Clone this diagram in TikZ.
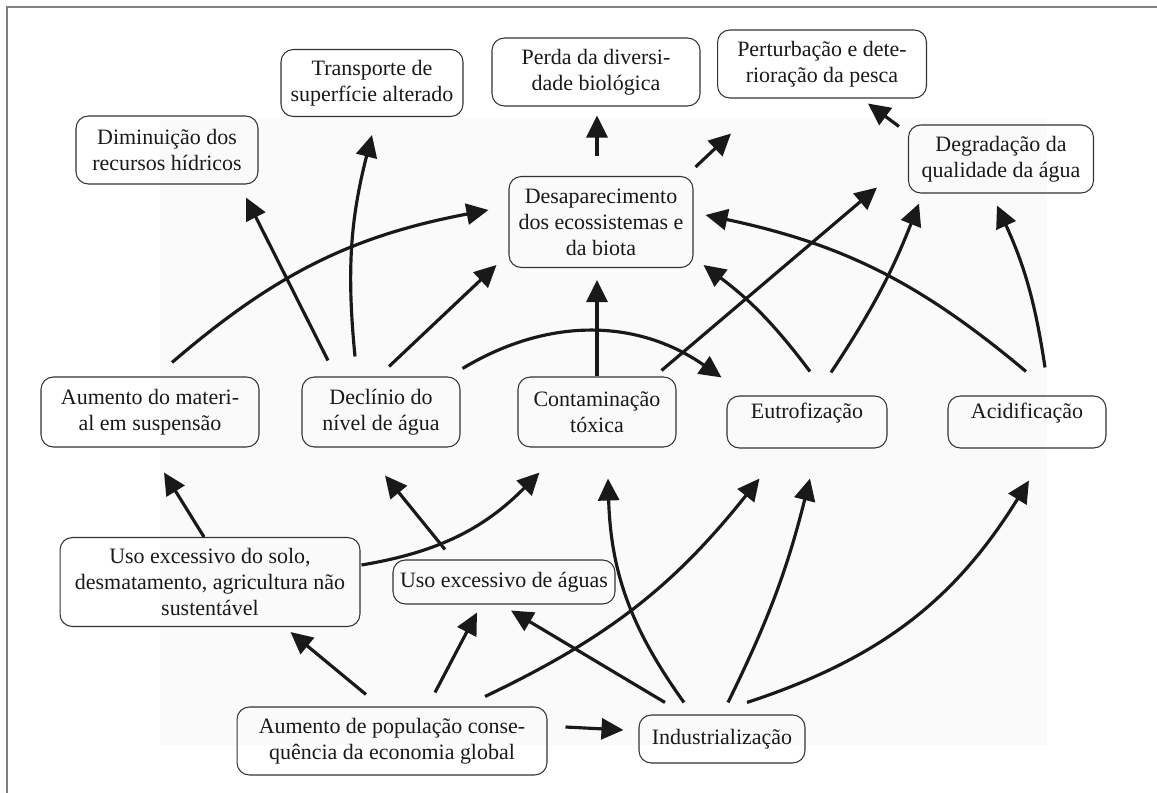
\documentclass[tikz,border=0pt]{standalone}
\usepackage{fontspec}
\setmainfont{Liberation Serif}
\usetikzlibrary{arrows.meta}

\begin{document}
\begin{tikzpicture}[x=0.02cm, y=-0.02cm, >={Triangle[length=0.44cm,width=0.42cm]}]
\tikzstyle{block} = [draw=black!80, line width=0.6pt, rounded corners=7pt, align=center, inner sep=0pt, text=black!90, font=\fontsize{12.5}{14.8}\selectfont]
\tikzstyle{short} = [text height=0.3cm, text depth=0.42cm]
\tikzstyle{link} = [->, line width=1.8pt, black!90]

% page, faint panel and frame
\useasboundingbox (0,0) rectangle (1157,793);
\fill[black!2] (160,118) rectangle (1047,745);
\draw[gray, line width=1.2pt] (7,793) -- (7,7) -- (1157,7);

% top row
\node [block, minimum width=3.64cm, minimum height=1.36cm] (recursos) at (167,150) {Diminuição dos\\recursos hídricos};
\node [block, minimum width=3.64cm, minimum height=1.34cm] (transporte) at (372,83) {Transporte de\\superfície alterado};
\node [block, minimum width=4.16cm, minimum height=1.36cm] (diversidade) at (596,72) {Perda da diversi-\\dade biológica};
\node [block, minimum width=4.18cm, minimum height=1.36cm] (pesca) at (822,64) {Perturbação e dete-\\rioração da pesca};
\node [block, minimum width=3.70cm, minimum height=1.36cm] (qualidade) at (1001,159) {Degradação da\\qualidade da água};
\node [block, minimum width=3.68cm, minimum height=1.82cm] (ecossistemas) at (601,222) {Desaparecimento\\dos ecossistemas e\\da biota};

% middle row
\node [block, minimum width=4.36cm, minimum height=1.40cm] (material) at (150,412) {Aumento do materi-\\al em suspensão};
\node [block, minimum width=3.16cm, minimum height=1.40cm] (nivel) at (381,412) {Declínio do\\nível de água};
\node [block, minimum width=3.16cm, minimum height=1.40cm] (toxica) at (597,412) {Contaminação\\tóxica};
\node [block, short, minimum width=3.20cm, minimum height=1.04cm] (eutrofizacao) at (807,422) {Eutrofização};
\node [block, short, minimum width=3.16cm, minimum height=1.04cm] (acidificacao) at (1027,422) {Acidificação};

% causes
\node [block, minimum width=6.00cm, minimum height=1.78cm] (solo) at (210,582) {Uso excessivo do solo,\\desmatamento, agricultura não\\sustentável};
\node [block, minimum width=4.44cm, minimum height=0.88cm] (aguas) at (504,582) {Uso excessivo de águas};
\node [block, minimum width=6.20cm, minimum height=1.36cm] (populacao) at (392,741) {Aumento de população conse-\\quência da economia global};
\node [block, minimum width=3.32cm, minimum height=0.96cm] (industria) at (722,739) {Industrialização};

% effects of the middle row
\draw [link] ([shift={(22,-14)}]material.north) to[bend left=15] ([shift={(-20,-12)}]ecossistemas.west);
\draw [link] ([shift={(-53,-16)}]nivel.north) -- ([shift={(79,13)}]recursos.south);
\draw [link] ([shift={(-26,-20)}]nivel.north) to[bend left=10] ([shift={(0,18)}]transporte.south);
\draw [link] ([shift={(8,-10)}]nivel.north) -- ([shift={(-12,-3)}]ecossistemas.south west);
\draw [link] ([shift={(2,-8)}]nivel.north east) to[bend left=33] ([shift={(-5,-18)}]eutrofizacao.north west);
\draw [link] (toxica.north) -- ([shift={(-4,12)}]ecossistemas.south);
\draw [link] ([shift={(-15,-6)}]toxica.north east) -- ([shift={(-31,-6)}]qualidade.south west);
\draw [link] ([shift={(3,-24)}]eutrofizacao.north) to[bend right=8] ([shift={(10,-3)}]ecossistemas.south east);
\draw [link] ([shift={(24,-23)}]eutrofizacao.north) to[bend right=6] ([shift={(11,10)}]qualidade.south west);
\draw [link] ([shift={(-1,-24)}]acidificacao.north) to[bend right=14] ([shift={(12,-7)}]ecossistemas.east);
\draw [link] ([shift={(18,-28)}]acidificacao.north) to[bend right=8] ([shift={(-4,12)}]qualidade.south);

% top effects
\draw [link] ([shift={(-4,-20)}]ecossistemas.north) -- ([shift={(1,9)}]diversidade.south);
\draw [link] ([shift={(2,-9)}]ecossistemas.north east) -- ([shift={(14,35)}]pesca.south west);
\draw [link] ([shift={(-9,2)}]qualidade.north west) -- ([shift={(46,5)}]pesca.south);

% causes
\draw [link] ([shift={(-6,0)}]solo.north) -- ([shift={(14,25)}]material.south);
\draw [link] ([shift={(1,-17)}]solo.east) to[bend right=18] ([shift={(22,25)}]toxica.south west);
\draw [link] ([shift={(-59,-10)}]aguas.north) -- ([shift={(4,28)}]nivel.south);
\draw [link] ([shift={(-26,-12)}]populacao.north) -- ([shift={(-70,5)}]solo.south east);
\draw [link] ([shift={(43,-14)}]populacao.north) -- ([shift={(-27,8)}]aguas.south);
\draw [link] ([shift={(93,-10)}]populacao.north) to[bend right=13] ([shift={(33,30)}]eutrofizacao.south west);
\draw [link] ([shift={(18,-14)}]populacao.east) -- ([shift={(-15,-9)}]industria.west);
\draw [link] ([shift={(-57,-12)}]industria.north) -- ([shift={(7,6)}]aguas.south);
\draw [link] ([shift={(-38,-12)}]industria.north) to[bend left=17] ([shift={(11,31)}]toxica.south);
\draw [link] ([shift={(6,-12)}]industria.north) to[bend right=6] ([shift={(3,30)}]eutrofizacao.south);
\draw [link] ([shift={(25,-12)}]industria.north) to[bend right=20] ([shift={(2,32)}]acidificacao.south);

\end{tikzpicture}
\end{document}
